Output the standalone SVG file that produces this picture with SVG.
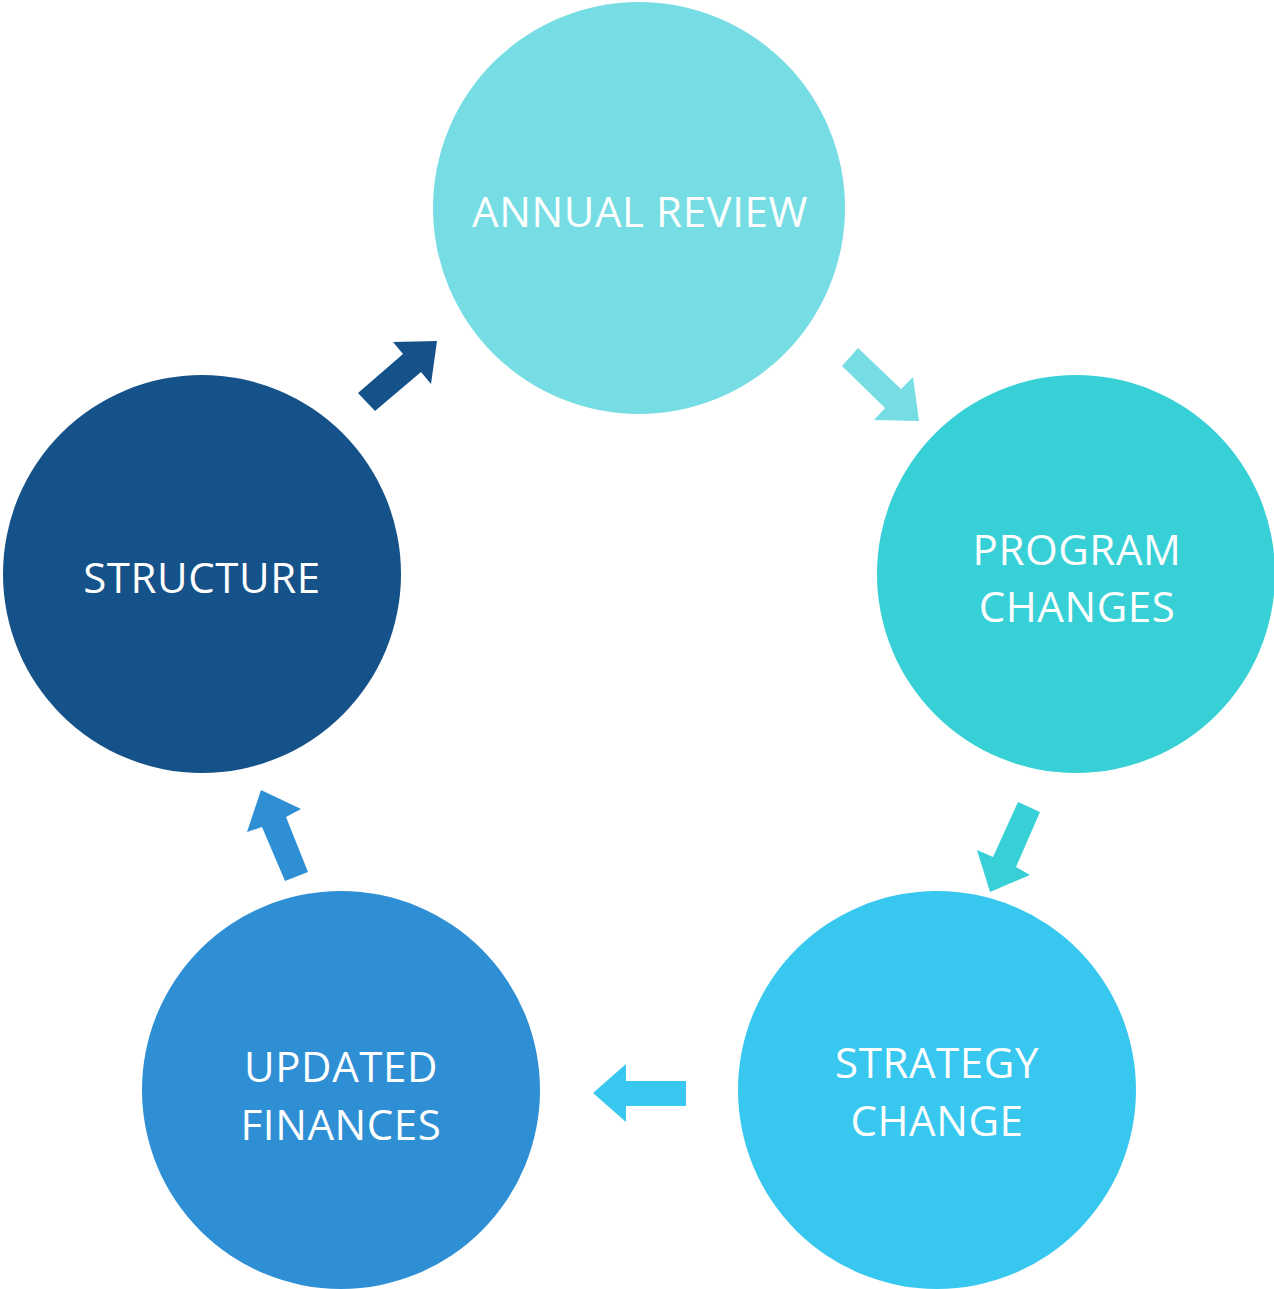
<svg xmlns="http://www.w3.org/2000/svg" width="1274" height="1289" viewBox="0 0 1274 1289">
<style>
.lbl{font-family:"Open Sans","Noto Sans","Liberation Sans",sans-serif;font-size:42px;fill:#ffffff;text-anchor:middle;letter-spacing:0.6px}
</style>
<rect x="0" y="0" width="1274" height="1289" fill="#ffffff"/>
<g id="connectors">
<polygon points="858,348 901,389 913,377 919,421 874,420 885,408 842,366" fill="#77DDE4"/>
<polygon points="1018,802 1040,812 1016,867 1030,875 990,892 977,850 993,857" fill="#37D0D6"/>
<polygon points="686,1081 626,1081 626,1064 593,1093 626,1122 626,1106 686,1106" fill="#38C8EF"/>
<polygon points="285,881 262,827 247,832 261,790 301,809 286,817 308,872" fill="#2E8FD5"/>
<polygon points="375,411 358,393 403,354 393,342 437,341 431,384 421,372" fill="#155289"/>
</g>
<g id="annual-review">
<circle cx="639" cy="208" r="206" fill="#77DDE4"/>
<text class="lbl" x="640" y="227">ANNUAL REVIEW</text>
</g>
<g id="program-changes">
<circle cx="1076" cy="574" r="199" fill="#37D0D6"/>
<text class="lbl" x="1077" y="565">PROGRAM</text>
<text class="lbl" x="1077" y="622">CHANGES</text>
</g>
<g id="strategy-change">
<circle cx="937" cy="1090" r="199" fill="#38C8EF"/>
<text class="lbl" x="937" y="1078">STRATEGY</text>
<text class="lbl" x="937" y="1136">CHANGE</text>
</g>
<g id="updated-finances">
<circle cx="341" cy="1090" r="199" fill="#2E8FD5"/>
<text class="lbl" x="341" y="1082">UPDATED</text>
<text class="lbl" x="341" y="1140">FINANCES</text>
</g>
<g id="structure">
<circle cx="202" cy="574" r="199" fill="#155289"/>
<text class="lbl" x="202" y="593">STRUCTURE</text>
</g>
</svg>
